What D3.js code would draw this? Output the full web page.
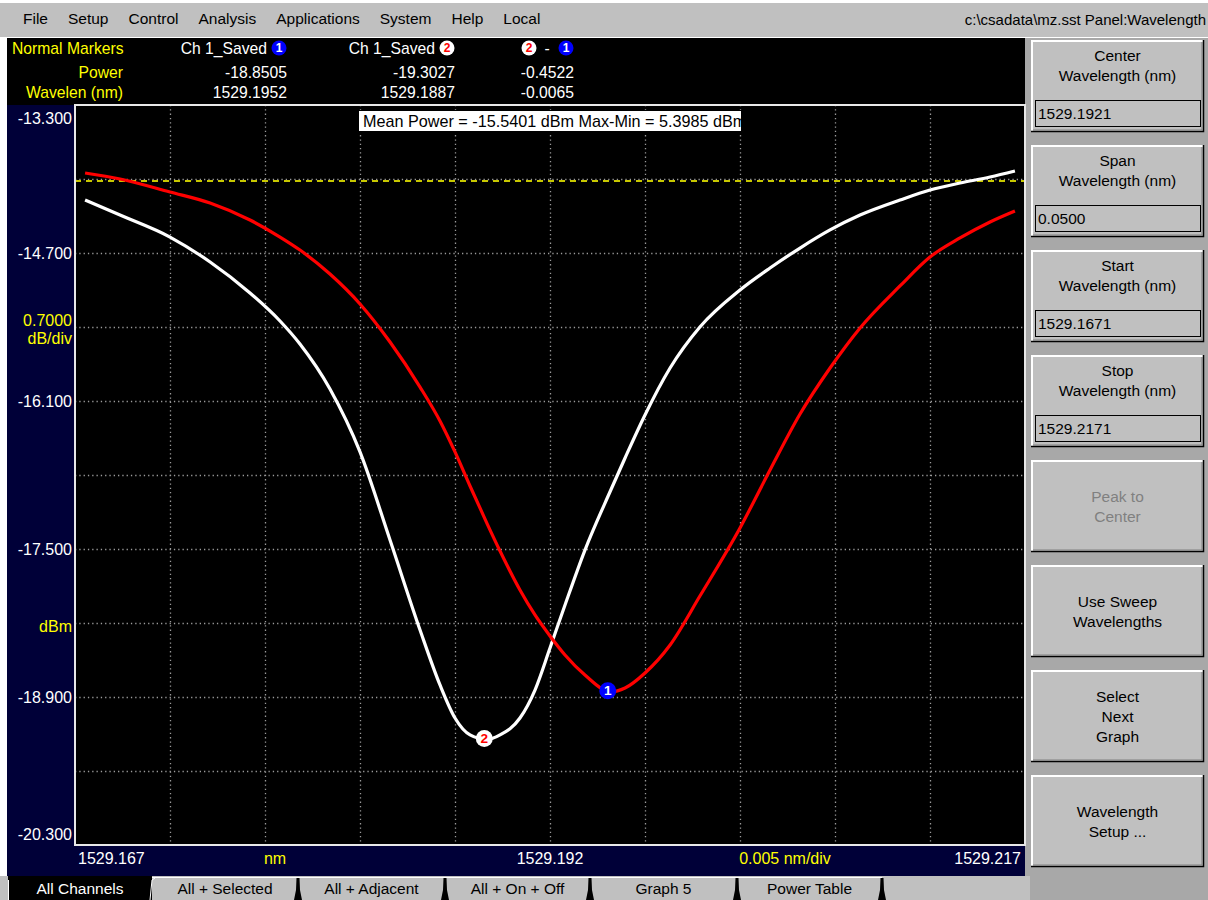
<!DOCTYPE html>
<html>
<head>
<meta charset="utf-8">
<script src="https://cdn.jsdelivr.net/npm/d3@7"></script>
<style>
  body { margin: 0; background: #fff; }
  svg text { font-family: "Liberation Sans", Arial, sans-serif; }
</style>
</head>
<body>
<svg id="osa" width="1208" height="900"></svg>
<script>
// == Data ====================================================================

// sample wavelengths (nm), shared by both saved traces
const wavelengths = [
  1529.16753, 1529.16937, 1529.17200, 1529.17411, 1529.17621, 1529.17779,
  1529.17884, 1529.18042, 1529.18200, 1529.18358, 1529.18516, 1529.18621,
  1529.18700, 1529.18779, 1529.1887, 1529.18937, 1529.19042, 1529.19121,
  1529.19200, 1529.19279, 1529.19384, 1529.1952, 1529.19595, 1529.19700,
  1529.19832, 1529.19989, 1529.20200, 1529.20358, 1529.20516, 1529.20674,
  1529.20832, 1529.21042, 1529.21200, 1529.21358, 1529.21516, 1529.21647
]

// Ch 1_Saved, red trace (marker 1), dBm
const savedRed = [
  -13.943, -14.000, -14.123, -14.227, -14.388, -14.549,
  -14.672, -14.899, -15.182, -15.542, -15.968, -16.289,
  -16.582, -16.904, -17.264, -17.519, -17.888, -18.124,
  -18.323, -18.503, -18.692, -18.8505, -18.815, -18.673,
  -18.408, -17.945, -17.301, -16.753, -16.223, -15.788,
  -15.409, -15.012, -14.738, -14.558, -14.407, -14.303
]

// Ch 1_Saved, white trace (marker 2), dBm
const savedWhite = [
  -14.199, -14.341, -14.549, -14.785, -15.078, -15.343,
  -15.561, -15.987, -16.582, -17.415, -18.266, -18.786,
  -19.099, -19.259, -19.3027, -19.259, -19.099, -18.834,
  -18.437, -18.030, -17.510, -16.942, -16.639, -16.232,
  -15.788, -15.400, -15.050, -14.842, -14.653, -14.482,
  -14.341, -14.199, -14.104, -14.038, -13.981, -13.924
]

const thresholdPower = -14.02

const markerIds = [1, 2]
const markerWavelengths = [1529.1952, 1529.1887]
const markerPowers = [-18.8505, -19.3027]

const xDomain = [1529.167, 1529.217]
const yDomain = [-20.3, -13.3]
const xTickLabels = ['1529.167', '1529.192', '1529.217']
const yTickLabels = ['-13.300', '-14.700', '-16.100', '-17.500', '-18.900', '-20.300']

const menuItems = ['File', 'Setup', 'Control', 'Analysis', 'Applications', 'System', 'Help', 'Local']
const fileInfo = 'c:\\csadata\\mz.sst  Panel:Wavelength'
const statsText = 'Mean Power = -15.5401 dBm Max-Min = 5.3985 dBm'

const buttonLabels = [
  ['Center', 'Wavelength (nm)'],
  ['Span', 'Wavelength (nm)'],
  ['Start', 'Wavelength (nm)'],
  ['Stop', 'Wavelength (nm)'],
  ['Peak to', 'Center'],
  ['Use Sweep', 'Wavelengths'],
  ['Select', 'Next', 'Graph'],
  ['Wavelength', 'Setup ...']
]
const buttonValues = ['1529.1921', '0.0500', '1529.1671', '1529.2171', null, null, null, null]
const tabLabels = ['All Channels', 'All + Selected', 'All + Adjacent', 'All + On + Off', 'Graph 5', 'Power Table']

// == Layout ==================================================================

const W = 1208, H = 900
const plot = { left: 75, right: 1025, top: 105, bottom: 845 }
const YELLOW = '#ffff00', NAVY = '#000038', GRAY = '#c0c0c0'

const svg = d3.select('#osa')

// frame pieces
svg.append('rect').attr('width', W).attr('height', H).attr('fill', '#fff')
svg.append('rect').attr('x', 0).attr('y', 3).attr('width', W).attr('height', 34).attr('fill', GRAY)
svg.append('line').attr('x1', 0).attr('x2', W).attr('y1', 37.5).attr('y2', 37.5).attr('stroke', '#fff')
svg.append('rect').attr('x', 7).attr('y', 38).attr('width', plot.right - 7).attr('height', plot.top - 38).attr('fill', '#000')
svg.append('rect').attr('x', 7).attr('y', plot.top).attr('width', plot.right - 7).attr('height', 876 - plot.top).attr('fill', NAVY)
svg.append('rect').attr('x', plot.right).attr('y', 38).attr('width', W - plot.right).attr('height', H - 38).attr('fill', '#a8a8a8')
svg.append('rect').attr('x', 0).attr('y', 876).attr('width', plot.right + 5).attr('height', H - 876).attr('fill', GRAY)

// == Menu bar ================================================================

let mx = 23
menuItems.forEach(function (m) {
  let t = svg.append('text').attr('x', mx).attr('y', 24).attr('font-size', 15.5).attr('fill', '#000').text(m)
  mx += t.node().getComputedTextLength() + 20
})
svg.append('text').attr('x', 1206).attr('y', 25).attr('font-size', 15).attr('text-anchor', 'end')
  .attr('fill', '#000').text(fileInfo)

// == Marker header ===========================================================

function markerIcon (g, cx, cy, id, r) {
  let blue = id === 1
  g.append('circle').attr('cx', cx).attr('cy', cy).attr('r', r)
    .attr('fill', blue ? '#0000ff' : '#fff')
  g.append('text').attr('x', cx).attr('y', cy + r * 0.55).attr('text-anchor', 'middle')
    .attr('font-size', r * 1.6).attr('font-weight', 'bold')
    .attr('fill', blue ? '#fff' : '#ff0000').text(id)
}

const hdr = svg.append('g').attr('font-size', 15.7)
hdr.append('text').attr('x', 12).attr('y', 54).attr('fill', YELLOW).text('Normal Markers')
hdr.append('text').attr('x', 123).attr('y', 78).attr('fill', YELLOW).attr('text-anchor', 'end').text('Power')
hdr.append('text').attr('x', 123).attr('y', 98).attr('fill', YELLOW).attr('text-anchor', 'end').text('Wavelen (nm)')

const colRight = [287, 455]
markerIds.forEach(function (id, i) {
  hdr.append('text').attr('x', colRight[i] - 20).attr('y', 54).attr('fill', '#fff')
    .attr('text-anchor', 'end').text('Ch 1_Saved')
  markerIcon(hdr, colRight[i] - 8, 48, id, 7.5)
  hdr.append('text').attr('x', colRight[i]).attr('y', 78).attr('fill', '#fff')
    .attr('text-anchor', 'end').text(markerPowers[i].toFixed(4))
  hdr.append('text').attr('x', colRight[i]).attr('y', 98).attr('fill', '#fff')
    .attr('text-anchor', 'end').text(markerWavelengths[i].toFixed(4))
})
markerIcon(hdr, 529, 48, 2, 7.5)
hdr.append('text').attr('x', 547).attr('y', 54).attr('fill', '#fff').attr('text-anchor', 'middle').text('-')
markerIcon(hdr, 566, 48, 1, 7.5)
hdr.append('text').attr('x', 574).attr('y', 78).attr('fill', '#fff').attr('text-anchor', 'end')
  .text((markerPowers[1] - markerPowers[0]).toFixed(4))
hdr.append('text').attr('x', 574).attr('y', 98).attr('fill', '#fff').attr('text-anchor', 'end')
  .text((markerWavelengths[1] - markerWavelengths[0]).toFixed(4))

// == Plot ====================================================================

const x = d3.scaleLinear().domain(xDomain).range([plot.left, plot.right])
const y = d3.scaleLinear().domain(yDomain).range([plot.bottom, plot.top])

svg.append('rect').attr('x', plot.left).attr('y', plot.top)
  .attr('width', plot.right - plot.left).attr('height', plot.bottom - plot.top).attr('fill', '#000')

// 10 divisions each way
const xGrid = d3.range(1, 10).map(i => xDomain[0] + i * (xDomain[1] - xDomain[0]) / 10)
const yGrid = d3.range(1, 10).map(i => yDomain[0] + i * (yDomain[1] - yDomain[0]) / 10)

const grid = svg.append('g').attr('stroke', '#9a9a9a').attr('stroke-width', 1.3).attr('stroke-dasharray', '1.3,3')
grid.selectAll('.gx').data(xGrid).join('line')
  .attr('x1', d => Math.round(x(d)) + 0.5).attr('x2', d => Math.round(x(d)) + 0.5)
  .attr('y1', plot.top).attr('y2', plot.bottom)
grid.selectAll('.gy').data(yGrid).join('line')
  .attr('y1', d => Math.round(y(d)) + 0.5).attr('y2', d => Math.round(y(d)) + 0.5)
  .attr('x1', plot.left).attr('x2', plot.right)

// threshold line
svg.append('line').attr('x1', plot.left).attr('x2', plot.right)
  .attr('y1', y(thresholdPower)).attr('y2', y(thresholdPower))
  .attr('stroke', '#c8c800').attr('stroke-width', 2).attr('stroke-dasharray', '6,5')

// traces
const line = d3.line().x((d, i) => x(wavelengths[i])).y(d => y(d)).curve(d3.curveMonotoneX)
svg.append('path').attr('d', line(savedWhite)).attr('fill', 'none')
  .attr('stroke', '#fff').attr('stroke-width', 3.2)
svg.append('path').attr('d', line(savedRed)).attr('fill', 'none')
  .attr('stroke', '#ff0000').attr('stroke-width', 3.2)

// markers on traces
markerIds.forEach(function (id, i) {
  markerIcon(svg, x(markerWavelengths[i]) - 3, y(markerPowers[i]) - 1, id, 8.5)
})

// plot border
svg.append('rect').attr('x', plot.left).attr('y', plot.top)
  .attr('width', plot.right - plot.left).attr('height', plot.bottom - plot.top)
  .attr('fill', 'none').attr('stroke', '#e8e8e8').attr('stroke-width', 2)

// statistics box, clipped like the instrument does
svg.append('clipPath').attr('id', 'statsClip').append('rect')
  .attr('x', 358).attr('y', 110).attr('width', 384).attr('height', 22)
svg.append('rect').attr('x', 358.5).attr('y', 110.5).attr('width', 383).attr('height', 21)
  .attr('fill', '#fff').attr('stroke', '#000')
svg.append('text').attr('x', 363).attr('y', 127).attr('font-size', 16.2).attr('fill', '#000')
  .attr('clip-path', 'url(#statsClip)').text(statsText)

// == Axis labels =============================================================

const yl = svg.append('g').attr('font-size', 16).attr('fill', '#fff').attr('text-anchor', 'end')
yTickLabels.forEach(function (lab, i) {
  let v = +lab
  let dy = i === 0 ? 19 : (i === yTickLabels.length - 1 ? -5 : 6)
  yl.append('text').attr('x', 72).attr('y', y(v) + dy).text(lab)
})
// scale note sits around the -15.4 dBm division, unit label around -18.2 dBm
yl.append('text').attr('x', 72).attr('y', y(yGrid[6]) - 1).attr('fill', YELLOW).text('0.7000')
yl.append('text').attr('x', 72).attr('y', y(yGrid[6]) + 17).attr('fill', YELLOW).text('dB/div')
yl.append('text').attr('x', 72).attr('y', y(yGrid[2]) + 9).attr('fill', YELLOW).text('dBm')

const xl = svg.append('g').attr('font-size', 16).attr('fill', '#fff')
xl.append('text').attr('x', x(+xTickLabels[0]) + 3).attr('y', 864).text(xTickLabels[0])
xl.append('text').attr('x', x(+xTickLabels[1])).attr('y', 864).attr('text-anchor', 'middle').text(xTickLabels[1])
xl.append('text').attr('x', x(+xTickLabels[2]) - 4).attr('y', 864).attr('text-anchor', 'end').text(xTickLabels[2])
xl.append('text').attr('x', 275).attr('y', 864).attr('text-anchor', 'middle').attr('fill', YELLOW).text('nm')
xl.append('text').attr('x', 785).attr('y', 864).attr('text-anchor', 'middle').attr('fill', YELLOW)
  .text(((xDomain[1] - xDomain[0]) / 10).toFixed(3) + ' nm/div')

// == Soft key panel ==========================================================

buttonLabels.forEach(function (lines, i) {
  let top = 40 + i * 105, bx = 1031, bw = 173, bh = 92
  let g = svg.append('g')
  g.append('rect').attr('x', bx).attr('y', top).attr('width', bw).attr('height', bh).attr('fill', GRAY)
  g.append('path').attr('d', `M${bx + 1},${top + bh - 1}V${top + 1}H${bx + bw - 1}`)
    .attr('fill', 'none').attr('stroke', '#fff').attr('stroke-width', 2)
  g.append('path').attr('d', `M${bx},${top + bh - 0.5}H${bx + bw - 0.5}V${top}`)
    .attr('fill', 'none').attr('stroke', '#000').attr('stroke-width', 1.5)
  g.append('path').attr('d', `M${bx + 2},${top + bh - 2}H${bx + bw - 2}V${top + 2}`)
    .attr('fill', 'none').attr('stroke', '#808080').attr('stroke-width', 1)
  let hasValue = buttonValues[i] !== null
  let lineH = 20
  let startY = hasValue ? top + 21 : top + bh / 2 - (lines.length - 1) * lineH / 2 + 6
  lines.forEach(function (t, j) {
    g.append('text').attr('x', bx + bw / 2).attr('y', startY + j * lineH).attr('text-anchor', 'middle')
      .attr('font-size', 15.5).attr('fill', i === 4 ? '#808080' : '#000').text(t)
  })
  if (hasValue) {
    g.append('rect').attr('x', 1035.5).attr('y', top + 60.5).attr('width', 165).attr('height', 26)
      .attr('fill', GRAY).attr('stroke', '#000')
    g.append('text').attr('x', 1038).attr('y', top + 79).attr('font-size', 15.5).attr('fill', '#000')
      .text(buttonValues[i])
  }
})

// == Tabs ====================================================================

const tabEdges = [8, 152, 298, 445, 590, 737, 882]
const tabs = svg.append('g')
tabs.append('line').attr('x1', tabEdges[1]).attr('x2', tabEdges[6]).attr('y1', 877.5).attr('y2', 877.5).attr('stroke', '#fff')
tabs.append('rect').attr('x', tabEdges[0]).attr('y', 876).attr('width', tabEdges[1] - tabEdges[0]).attr('height', 24).attr('fill', '#000')
tabLabels.forEach(function (t, i) {
  let cx = (tabEdges[i] + tabEdges[i + 1]) / 2
  tabs.append('text').attr('x', cx).attr('y', 894).attr('text-anchor', 'middle').attr('font-size', 15.5)
    .attr('fill', i === 0 ? '#fff' : '#000').text(t)
})
tabEdges.forEach(function (e, i) {
  if (i === 0) {
    tabs.append('line').attr('x1', e + 0.5).attr('x2', e + 0.5).attr('y1', 880).attr('y2', 900).attr('stroke', '#fff')
    return
  }
  if (i === 1) {
    tabs.append('path').attr('d', `M${e - 2},900 L${e},880 L${e + 3},878`).attr('fill', 'none').attr('stroke', '#fff')
    return
  }
  tabs.append('path').attr('d', `M${e - 4},900 L${e - 2},890 L${e - 1.5},878 L${e + 1.5},878 L${e + 2},890 L${e + 4},900 Z`)
    .attr('fill', '#000')
})
</script>
</body>
</html>
